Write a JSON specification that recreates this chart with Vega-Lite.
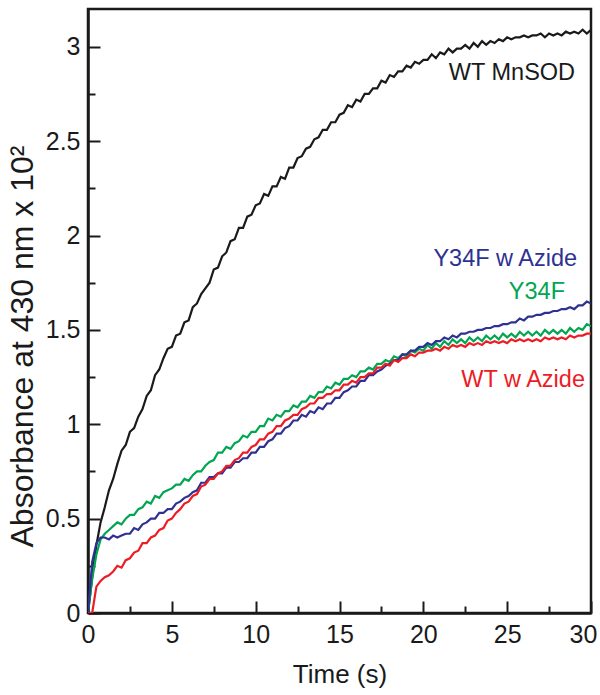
{
  "$schema": "https://vega.github.io/schema/vega-lite/v6.json",
  "width": 503,
  "height": 604,
  "autosize": "none",
  "padding": {"left": 88, "top": 9, "right": 9, "bottom": 82},
  "background": "white",
  "config": {
    "view": {"stroke": "#1a1a1a", "strokeWidth": 2.5},
    "font": "Liberation Sans",
    "axis": {
      "domainColor": "#1a1a1a", "domainWidth": 2.5,
      "tickColor": "#1a1a1a", "tickWidth": 2,
      "labelFont": "Liberation Sans", "labelColor": "#1a1a1a", "labelFontSize": 25,
      "titleFont": "Liberation Sans", "titleColor": "#1a1a1a", "titleFontWeight": "normal",
      "grid": false
    }
  },
  "datasets": {
    "curves": [
      {"t":0,"wt":0,"y":0,"ya":0,"wa":0},
      {"t":0.25,"wt":0.19,"y":0.18,"ya":0.27,"wa":0},
      {"t":0.5,"wt":0.36,"y":0.31,"ya":0.37,"wa":0.14},
      {"t":0.75,"wt":0.48,"y":0.39,"ya":0.40,"wa":0.17},
      {"t":1,"wt":0.56,"y":0.42,"ya":0.40,"wa":0.19},
      {"t":1.25,"wt":0.65,"y":0.44,"ya":0.39,"wa":0.20},
      {"t":1.5,"wt":0.71,"y":0.46,"ya":0.41,"wa":0.22},
      {"t":1.75,"wt":0.79,"y":0.48,"ya":0.40,"wa":0.25},
      {"t":2,"wt":0.86,"y":0.47,"ya":0.41,"wa":0.24},
      {"t":2.25,"wt":0.89,"y":0.50,"ya":0.42,"wa":0.28},
      {"t":2.5,"wt":0.96,"y":0.52,"ya":0.42,"wa":0.29},
      {"t":2.75,"wt":0.98,"y":0.52,"ya":0.45,"wa":0.32},
      {"t":3,"wt":1.04,"y":0.55,"ya":0.44,"wa":0.33},
      {"t":3.25,"wt":1.08,"y":0.56,"ya":0.47,"wa":0.37},
      {"t":3.5,"wt":1.15,"y":0.59,"ya":0.48,"wa":0.37},
      {"t":3.75,"wt":1.18,"y":0.58,"ya":0.50,"wa":0.40},
      {"t":4,"wt":1.26,"y":0.62,"ya":0.50,"wa":0.41},
      {"t":4.25,"wt":1.29,"y":0.61,"ya":0.53,"wa":0.44},
      {"t":4.5,"wt":1.35,"y":0.64,"ya":0.53,"wa":0.45},
      {"t":4.75,"wt":1.40,"y":0.65,"ya":0.55,"wa":0.49},
      {"t":5,"wt":1.41,"y":0.66,"ya":0.55,"wa":0.50},
      {"t":5.25,"wt":1.47,"y":0.68,"ya":0.58,"wa":0.53},
      {"t":5.5,"wt":1.48,"y":0.68,"ya":0.59,"wa":0.55},
      {"t":5.75,"wt":1.54,"y":0.71,"ya":0.61,"wa":0.58},
      {"t":6,"wt":1.55,"y":0.70,"ya":0.62,"wa":0.59},
      {"t":6.25,"wt":1.62,"y":0.73,"ya":0.64,"wa":0.62},
      {"t":6.5,"wt":1.64,"y":0.75,"ya":0.65,"wa":0.63},
      {"t":6.75,"wt":1.69,"y":0.75,"ya":0.69,"wa":0.67},
      {"t":7,"wt":1.72,"y":0.78,"ya":0.69,"wa":0.68},
      {"t":7.25,"wt":1.75,"y":0.80,"ya":0.72,"wa":0.71},
      {"t":7.5,"wt":1.82,"y":0.81,"ya":0.72,"wa":0.71},
      {"t":7.75,"wt":1.83,"y":0.85,"ya":0.74,"wa":0.74},
      {"t":8,"wt":1.89,"y":0.85,"ya":0.74,"wa":0.75},
      {"t":8.25,"wt":1.91,"y":0.88,"ya":0.77,"wa":0.78},
      {"t":8.5,"wt":1.97,"y":0.87,"ya":0.77,"wa":0.78},
      {"t":8.75,"wt":1.98,"y":0.90,"ya":0.80,"wa":0.81},
      {"t":9,"wt":2.04,"y":0.91,"ya":0.80,"wa":0.82},
      {"t":9.25,"wt":2.04,"y":0.94,"ya":0.82,"wa":0.85},
      {"t":9.5,"wt":2.10,"y":0.93,"ya":0.82,"wa":0.85},
      {"t":9.75,"wt":2.11,"y":0.96,"ya":0.85,"wa":0.88},
      {"t":10,"wt":2.16,"y":0.96,"ya":0.85,"wa":0.89},
      {"t":10.25,"wt":2.17,"y":0.99,"ya":0.88,"wa":0.92},
      {"t":10.5,"wt":2.22,"y":0.99,"ya":0.88,"wa":0.92},
      {"t":10.75,"wt":2.21,"y":1.03,"ya":0.91,"wa":0.95},
      {"t":11,"wt":2.26,"y":1.02,"ya":0.92,"wa":0.96},
      {"t":11.25,"wt":2.26,"y":1.05,"ya":0.95,"wa":0.99},
      {"t":11.5,"wt":2.31,"y":1.04,"ya":0.95,"wa":0.99},
      {"t":11.75,"wt":2.30,"y":1.07,"ya":0.98,"wa":1.02},
      {"t":12,"wt":2.36,"y":1.07,"ya":0.99,"wa":1.03},
      {"t":12.25,"wt":2.36,"y":1.10,"ya":1.02,"wa":1.05},
      {"t":12.5,"wt":2.41,"y":1.09,"ya":1.02,"wa":1.05},
      {"t":12.75,"wt":2.42,"y":1.12,"ya":1.05,"wa":1.08},
      {"t":13,"wt":2.46,"y":1.12,"ya":1.04,"wa":1.09},
      {"t":13.25,"wt":2.47,"y":1.15,"ya":1.07,"wa":1.11},
      {"t":13.5,"wt":2.51,"y":1.14,"ya":1.06,"wa":1.11},
      {"t":13.75,"wt":2.52,"y":1.17,"ya":1.09,"wa":1.14},
      {"t":14,"wt":2.56,"y":1.17,"ya":1.08,"wa":1.14},
      {"t":14.25,"wt":2.56,"y":1.20,"ya":1.11,"wa":1.16},
      {"t":14.5,"wt":2.60,"y":1.19,"ya":1.11,"wa":1.16},
      {"t":14.75,"wt":2.60,"y":1.22,"ya":1.14,"wa":1.18},
      {"t":15,"wt":2.64,"y":1.21,"ya":1.14,"wa":1.18},
      {"t":15.25,"wt":2.65,"y":1.24,"ya":1.17,"wa":1.21},
      {"t":15.5,"wt":2.69,"y":1.24,"ya":1.18,"wa":1.21},
      {"t":15.75,"wt":2.68,"y":1.26,"ya":1.20,"wa":1.23},
      {"t":16,"wt":2.72,"y":1.25,"ya":1.20,"wa":1.22},
      {"t":16.25,"wt":2.71,"y":1.28,"ya":1.23,"wa":1.25},
      {"t":16.5,"wt":2.75,"y":1.28,"ya":1.23,"wa":1.25},
      {"t":16.75,"wt":2.75,"y":1.30,"ya":1.26,"wa":1.27},
      {"t":17,"wt":2.78,"y":1.29,"ya":1.26,"wa":1.27},
      {"t":17.25,"wt":2.78,"y":1.32,"ya":1.28,"wa":1.30},
      {"t":17.5,"wt":2.82,"y":1.32,"ya":1.29,"wa":1.30},
      {"t":17.75,"wt":2.81,"y":1.34,"ya":1.31,"wa":1.32},
      {"t":18,"wt":2.85,"y":1.33,"ya":1.32,"wa":1.31},
      {"t":18.25,"wt":2.84,"y":1.36,"ya":1.34,"wa":1.34},
      {"t":18.5,"wt":2.87,"y":1.35,"ya":1.34,"wa":1.33},
      {"t":18.75,"wt":2.87,"y":1.37,"ya":1.37,"wa":1.35},
      {"t":19,"wt":2.90,"y":1.36,"ya":1.37,"wa":1.35},
      {"t":19.25,"wt":2.89,"y":1.39,"ya":1.39,"wa":1.37},
      {"t":19.5,"wt":2.92,"y":1.38,"ya":1.39,"wa":1.36},
      {"t":19.75,"wt":2.91,"y":1.40,"ya":1.41,"wa":1.38},
      {"t":20,"wt":2.93,"y":1.39,"ya":1.41,"wa":1.38},
      {"t":20.25,"wt":2.93,"y":1.42,"ya":1.43,"wa":1.39},
      {"t":20.5,"wt":2.96,"y":1.40,"ya":1.42,"wa":1.39},
      {"t":20.75,"wt":2.94,"y":1.43,"ya":1.44,"wa":1.40},
      {"t":21,"wt":2.97,"y":1.41,"ya":1.44,"wa":1.39},
      {"t":21.25,"wt":2.96,"y":1.44,"ya":1.46,"wa":1.41},
      {"t":21.5,"wt":2.99,"y":1.42,"ya":1.45,"wa":1.40},
      {"t":21.75,"wt":2.97,"y":1.45,"ya":1.47,"wa":1.42},
      {"t":22,"wt":2.99,"y":1.43,"ya":1.46,"wa":1.41},
      {"t":22.25,"wt":2.99,"y":1.45,"ya":1.48,"wa":1.42},
      {"t":22.5,"wt":3.01,"y":1.43,"ya":1.48,"wa":1.41},
      {"t":22.75,"wt":2.99,"y":1.46,"ya":1.49,"wa":1.43},
      {"t":23,"wt":3.02,"y":1.44,"ya":1.49,"wa":1.42},
      {"t":23.25,"wt":3.00,"y":1.46,"ya":1.50,"wa":1.43},
      {"t":23.5,"wt":3.03,"y":1.44,"ya":1.50,"wa":1.42},
      {"t":23.75,"wt":3.01,"y":1.47,"ya":1.51,"wa":1.44},
      {"t":24,"wt":3.03,"y":1.45,"ya":1.51,"wa":1.43},
      {"t":24.25,"wt":3.02,"y":1.47,"ya":1.52,"wa":1.44},
      {"t":24.5,"wt":3.04,"y":1.45,"ya":1.52,"wa":1.43},
      {"t":24.75,"wt":3.03,"y":1.48,"ya":1.53,"wa":1.44},
      {"t":25,"wt":3.05,"y":1.46,"ya":1.53,"wa":1.43},
      {"t":25.25,"wt":3.04,"y":1.48,"ya":1.54,"wa":1.45},
      {"t":25.5,"wt":3.05,"y":1.46,"ya":1.54,"wa":1.44},
      {"t":25.75,"wt":3.05,"y":1.49,"ya":1.56,"wa":1.45},
      {"t":26,"wt":3.06,"y":1.47,"ya":1.55,"wa":1.44},
      {"t":26.25,"wt":3.05,"y":1.49,"ya":1.57,"wa":1.45},
      {"t":26.5,"wt":3.06,"y":1.47,"ya":1.57,"wa":1.44},
      {"t":26.75,"wt":3.06,"y":1.49,"ya":1.58,"wa":1.45},
      {"t":27,"wt":3.07,"y":1.47,"ya":1.58,"wa":1.44},
      {"t":27.25,"wt":3.05,"y":1.50,"ya":1.59,"wa":1.46},
      {"t":27.5,"wt":3.07,"y":1.48,"ya":1.59,"wa":1.45},
      {"t":27.75,"wt":3.06,"y":1.50,"ya":1.60,"wa":1.46},
      {"t":28,"wt":3.07,"y":1.48,"ya":1.60,"wa":1.45},
      {"t":28.25,"wt":3.06,"y":1.50,"ya":1.61,"wa":1.46},
      {"t":28.5,"wt":3.08,"y":1.48,"ya":1.61,"wa":1.45},
      {"t":28.75,"wt":3.07,"y":1.51,"ya":1.62,"wa":1.47},
      {"t":29,"wt":3.08,"y":1.49,"ya":1.61,"wa":1.46},
      {"t":29.25,"wt":3.07,"y":1.51,"ya":1.63,"wa":1.47},
      {"t":29.5,"wt":3.09,"y":1.50,"ya":1.63,"wa":1.47},
      {"t":29.75,"wt":3.07,"y":1.53,"ya":1.65,"wa":1.48},
      {"t":30,"wt":3.09,"y":1.52,"ya":1.64,"wa":1.48}
    ],
    "labels": [
      {"label":"WT MnSOD","t":29.05,"a":2.86,"series":"wt"},
      {"label":"Y34F w Azide","t":29.17,"a":1.873,"series":"ya"},
      {"label":"Y34F","t":28.45,"a":1.70,"series":"y"},
      {"label":"WT w Azide","t":29.64,"a":1.233,"series":"wa"}
    ]
  },
  "layer": [
    {
      "data": {"name": "curves"},
      "transform": [{"fold": ["wt", "y", "ya", "wa"], "as": ["series", "a"]}],
      "mark": {"type": "line", "strokeWidth": 2.2, "clip": true},
      "encoding": {
        "x": {
          "field": "t", "type": "quantitative",
          "scale": {"domain": [0, 30], "nice": false},
          "axis": {
            "title": "Time (s)", "titleFontSize": 26, "titlePadding": 14,
            "values": [0, 2.5, 5, 7.5, 10, 12.5, 15, 17.5, 20, 22.5, 25, 27.5, 30],
            "format": "~g",
            "labelExpr": "datum.value % 5 == 0 ? datum.label : ''",
            "tickSize": {"condition": {"test": "datum.value % 5 == 0", "value": -12}, "value": -7},
            "labelOffset": {"condition": {"test": "datum.value == 30", "value": -8}, "value": 0},
            "labelPadding": 21,
            "labelFlush": false
          }
        },
        "y": {
          "field": "a", "type": "quantitative",
          "scale": {"domain": [0, 3.2], "nice": false},
          "axis": {
            "title": "Absorbance at 430 nm x 10²", "titleFontSize": 32,
            "titleAngle": -90, "titleX": -66, "titleY": 337, "titleBaseline": "middle", "titleAlign": "center",
            "values": [0, 0.25, 0.5, 0.75, 1, 1.25, 1.5, 1.75, 2, 2.25, 2.5, 2.75, 3],
            "format": "~g",
            "labelExpr": "datum.value % 0.5 == 0 ? datum.label : ''",
            "tickSize": {"condition": {"test": "datum.value % 0.5 == 0", "value": -12}, "value": -7},
            "labelPadding": 20,
            "labelFlush": false
          }
        },
        "color": {
          "field": "series", "type": "nominal",
          "scale": {"domain": ["wt", "y", "ya", "wa"], "range": ["#1a1a1a", "#00a651", "#2e3192", "#ed1c24"]},
          "legend": null
        },
        "order": {"field": "t", "type": "quantitative"}
      }
    },
    {
      "data": {"name": "labels"},
      "mark": {"type": "text", "align": "right", "baseline": "middle", "fontSize": 23.5, "font": "Liberation Sans"},
      "encoding": {
        "x": {"field": "t", "type": "quantitative"},
        "y": {"field": "a", "type": "quantitative"},
        "text": {"field": "label"},
        "color": {"field": "series", "type": "nominal", "legend": null}
      }
    }
  ]
}
